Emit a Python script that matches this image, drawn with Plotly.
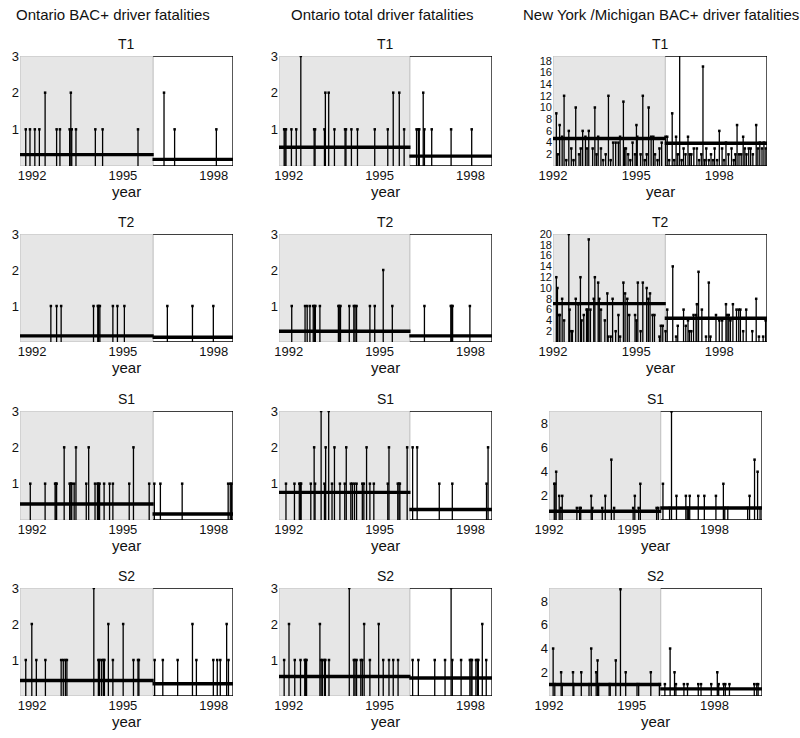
import plotly.graph_objects as go

W, H = 800, 738

COL_TITLES = ["Ontario BAC+ driver fatalities",
              "Ontario total driver fatalities",
              "New York /Michigan BAC+ driver fatalities"]
ROW_LABELS = ["T1", "T2", "S1", "S2"]
YEAR_TICKS = [1992, 1995, 1998]

# ---------------- Ontario BAC+ ----------------
on_bac_t1_x = [1991.79, 1991.93, 1992.09, 1992.24, 1992.43, 1992.81, 1992.92, 1993.24, 1993.28,
               1993.31, 1993.45, 1994.09, 1994.33, 1995.50, 1996.36, 1996.71, 1998.09]
on_bac_t1_y = [1, 1, 1, 1, 2, 1, 1, 1, 2, 1, 1, 1, 1, 1, 2, 1, 1]
on_bac_t2_x = [1992.62, 1992.81, 1992.96, 1994.03, 1994.17, 1994.20, 1994.24, 1994.67, 1994.82,
               1995.05, 1996.47, 1997.30, 1997.99]
on_bac_t2_y = [1] * 13
on_bac_s1_x = [1991.94, 1992.43, 1992.76, 1992.79, 1992.81, 1993.06, 1993.24, 1993.28, 1993.31,
               1993.39, 1993.45, 1993.79, 1993.87, 1994.08, 1994.16, 1994.19, 1994.23, 1994.38,
               1994.56, 1994.67, 1995.21, 1995.35, 1995.87, 1996.04, 1996.24, 1996.96, 1998.48,
               1998.55, 1998.59]
on_bac_s1_y = [1, 1, 1, 1, 1, 2, 1, 1, 1, 1, 2, 1, 2, 1, 1, 1, 1, 1, 1, 1, 1, 2, 1, 1, 1, 1, 1, 1, 1]
on_bac_s2_x = [1991.79, 1991.99, 1992.14, 1992.44, 1992.96, 1993.03, 1993.10, 1993.15, 1994.04,
               1994.19, 1994.23, 1994.30, 1994.36, 1994.39, 1994.52, 1994.67, 1995.01, 1995.35,
               1995.50, 1995.53, 1996.05, 1996.32, 1996.81, 1997.30, 1997.43, 1997.99, 1998.12,
               1998.22, 1998.43, 1998.49]
on_bac_s2_y = [1, 2, 1, 1, 1, 1, 1, 1, 3, 1, 1, 1, 1, 1, 2, 1, 2, 1, 1, 1, 1, 1, 1, 2, 1, 1, 1, 1, 2, 1]
on_bac_mean_before = [0.31, 0.17, 0.44, 0.43]
on_bac_mean_after = [0.18, 0.13, 0.165, 0.34]

# ---------------- Ontario total ----------------
on_tot_t1_x = [1991.85, 1991.88, 1991.91, 1992.09, 1992.25, 1992.40, 1992.84, 1992.87, 1993.18,
               1993.21, 1993.32, 1993.51, 1993.86, 1993.89, 1994.07, 1994.27, 1994.84, 1995.27,
               1995.45, 1995.65, 1995.81, 1996.22, 1996.28, 1996.31, 1996.44, 1996.48, 1996.72,
               1997.36, 1998.04]
on_tot_t1_y = [1, 1, 1, 1, 1, 3, 1, 1, 1, 2, 2, 1, 1, 1, 1, 1, 1, 1, 2, 2, 1, 1, 1, 1, 2, 1, 1, 1, 1]
on_tot_t2_x = [1992.10, 1992.54, 1992.61, 1992.70, 1992.81, 1992.85, 1992.88, 1993.03, 1993.64,
               1993.67, 1993.71, 1994.00, 1994.15, 1994.19, 1994.24, 1994.68, 1994.84, 1995.12,
               1995.42, 1996.48, 1997.35, 1997.38, 1997.41, 1997.98]
on_tot_t2_y = [1, 1, 1, 1, 1, 1, 1, 1, 1, 1, 1, 1, 1, 1, 1, 1, 1, 2, 1, 1, 1, 1, 1, 1]
on_tot_s1_x = [1991.91, 1992.19, 1992.35, 1992.39, 1992.41, 1992.73, 1992.84, 1992.87, 1993.07,
               1993.18, 1993.22, 1993.32, 1993.43, 1993.51, 1993.69, 1993.85, 1993.90, 1994.05,
               1994.10, 1994.17, 1994.24, 1994.43, 1994.48, 1994.57, 1994.68, 1994.81, 1995.27,
               1995.31, 1995.60, 1995.64, 1995.67, 1995.91, 1996.09, 1996.24, 1996.97, 1997.40,
               1998.53, 1998.58]
on_tot_s1_y = [1, 1, 1, 1, 1, 1, 2, 1, 3, 1, 2, 3, 1, 2, 1, 1, 2, 1, 1, 1, 1, 1, 1, 2, 1, 1, 1,
               2, 1, 1, 1, 2, 2, 2, 1, 1, 1, 2]
on_tot_s2_x = [1991.85, 1992.01, 1992.20, 1992.39, 1992.53, 1992.56, 1992.59, 1993.03, 1993.07,
               1993.11, 1993.18, 1993.21, 1993.33, 1994.00, 1994.15, 1994.19, 1994.24, 1994.38,
               1994.43, 1994.49, 1994.68, 1994.97, 1995.12, 1995.31, 1995.45, 1995.61, 1996.09,
               1996.28, 1996.82, 1997.16, 1997.36, 1997.40, 1997.69, 1997.98, 1998.02, 1998.05,
               1998.18, 1998.23, 1998.26, 1998.39, 1998.52]
on_tot_s2_y = [1, 2, 1, 1, 1, 1, 1, 2, 1, 1, 1, 1, 1, 3, 1, 1, 1, 1, 1, 2, 1, 2, 1, 1, 1, 1, 1,
               1, 1, 1, 3, 1, 1, 1, 1, 1, 1, 1, 1, 2, 1]
on_tot_mean_before = [0.51, 0.30, 0.76, 0.54]
on_tot_mean_after = [0.27, 0.17, 0.29, 0.50]

# ---------------- New York / Michigan BAC+ ----------------
ny_t1_x = [1992.12, 1992.17, 1992.24, 1992.33, 1992.40, 1992.48, 1992.57, 1992.66, 1992.74, 1992.82,
           1992.94, 1993.00, 1993.07, 1993.17, 1993.23, 1993.29, 1993.43, 1993.51, 1993.57, 1993.63,
           1993.73, 1993.81, 1993.90, 1994.00, 1994.08, 1994.17, 1994.26, 1994.36, 1994.42, 1994.54,
           1994.58, 1994.63, 1994.71, 1994.79, 1994.87, 1994.96, 1995.01, 1995.04, 1995.16, 1995.24,
           1995.31, 1995.38, 1995.45, 1995.54, 1995.62, 1995.68, 1995.77, 1995.84, 1995.92,
           1996.06, 1996.12, 1996.19, 1996.30, 1996.37, 1996.44, 1996.50, 1996.57, 1996.64, 1996.71,
           1996.78, 1996.87, 1996.93, 1996.99, 1997.08, 1997.19, 1997.27, 1997.35, 1997.41, 1997.47,
           1997.53, 1997.62, 1997.70, 1997.77, 1997.83, 1997.92, 1998.00, 1998.10, 1998.17, 1998.24,
           1998.33, 1998.44, 1998.52, 1998.58, 1998.64, 1998.71, 1998.79, 1998.86, 1998.92, 1998.98,
           1999.06, 1999.13, 1999.21, 1999.33, 1999.39, 1999.46, 1999.54, 1999.61, 1999.68]
ny_t1_y = [9, 2, 7, 5, 12, 1, 6, 3, 1, 10, 2, 3, 6, 5, 3, 6, 3, 10, 2, 5, 3, 1, 2, 12, 1, 4, 4, 4, 5,
           11, 3, 3, 2, 1, 4, 2, 7, 5, 2, 12, 1, 2, 10, 5, 5, 2, 1, 3, 4,
           5, 5, 1, 9, 1, 5, 2, 19, 1, 3, 2, 5, 2, 2, 3, 3, 1, 2, 17, 1, 3, 1, 2, 1, 3, 1, 6, 3, 1, 4,
           2, 3, 1, 2, 7, 2, 2, 5, 3, 2, 3, 3, 2, 7, 3, 4, 3, 4, 3]
ny_t2_x = [1992.12, 1992.16, 1992.22, 1992.25, 1992.33, 1992.40, 1992.57, 1992.60, 1992.66, 1992.70,
           1992.82, 1992.91, 1992.99, 1993.03, 1993.11, 1993.21, 1993.24, 1993.29, 1993.35, 1993.47,
           1993.51, 1993.63, 1993.67, 1993.73, 1993.87, 1993.96, 1993.99, 1994.08, 1994.15, 1994.26,
           1994.36, 1994.42, 1994.54, 1994.60, 1994.68, 1994.75, 1994.96, 1995.01, 1995.06, 1995.16,
           1995.24, 1995.38, 1995.44, 1995.50, 1995.59, 1995.66, 1995.84, 1995.89, 1995.96,
           1996.06, 1996.12, 1996.32, 1996.44, 1996.50, 1996.71, 1996.79, 1996.87, 1996.92, 1996.99,
           1997.07, 1997.16, 1997.19, 1997.25, 1997.37, 1997.52, 1997.62, 1997.68, 1997.88, 1998.00,
           1998.10, 1998.24, 1998.28, 1998.34, 1998.40, 1998.49, 1998.62, 1998.70, 1998.76, 1998.86,
           1998.97, 1999.19, 1999.33, 1999.43, 1999.58, 1999.67]
ny_t2_y = [12, 10, 5, 5, 8, 4, 20, 6, 2, 2, 8, 7, 12, 4, 5, 6, 6, 19, 6, 8, 12, 11, 8, 6, 4, 9, 1, 1,
           8, 2, 5, 1, 11, 9, 8, 5, 5, 4, 11, 2, 11, 10, 8, 9, 5, 5, 1, 3, 3,
           2, 6, 14, 1, 3, 6, 3, 4, 2, 2, 5, 5, 7, 13, 6, 1, 11, 1, 5, 4, 4, 7, 5, 5, 4, 7, 6, 6, 6,
           2, 6, 2, 8, 1, 1, 4]
ny_s1_x = [1992.19, 1992.22, 1992.26, 1992.37, 1992.43, 1992.48, 1993.01, 1993.11, 1993.15, 1993.53,
           1993.57, 1993.93, 1994.04, 1994.26, 1994.36, 1995.05, 1995.11, 1995.25, 1995.31, 1995.90,
           1995.96, 1996.13, 1996.37, 1996.44, 1996.62, 1996.96, 1997.01, 1997.05, 1997.10, 1997.41,
           1997.63, 1998.05, 1998.32, 1998.37, 1998.48, 1999.20, 1999.27, 1999.45, 1999.56, 1999.65]
ny_s1_y = [3, 3, 4, 2, 1, 2, 1, 1, 1, 2, 1, 1, 2, 5, 1, 1, 2, 1, 3, 1, 1, 3, 1, 9, 2, 2, 1, 1, 2, 2,
           2, 2, 3, 1, 1, 1, 2, 5, 4, 1]
ny_s2_x = [1992.15, 1992.21, 1992.44, 1992.48, 1992.87, 1992.90, 1993.17, 1993.45, 1993.53, 1993.71,
           1993.76, 1993.80, 1994.18, 1994.22, 1994.42, 1994.59, 1994.78, 1995.19, 1995.25, 1995.69,
           1996.00, 1996.20, 1996.39, 1996.55, 1996.60, 1996.89, 1997.02, 1997.41, 1997.51, 1997.88,
           1998.10, 1998.15, 1998.33, 1998.39, 1998.54, 1999.44, 1999.53, 1999.58]
ny_s2_y = [4, 1, 2, 1, 2, 1, 2, 1, 4, 2, 3, 1, 1, 1, 3, 9, 2, 1, 1, 2, 1, 1, 4, 2, 1, 1, 1, 1, 1, 1,
           2, 1, 1, 1, 1, 1, 1, 1]
ny_mean_before = [4.7, 7.1, 0.72, 0.97]
ny_mean_after = [3.9, 4.4, 1.0, 0.6]

# ---------------- layout geometry (pixels) ----------------
ROW_PX = [(56, 166), (234, 342), (411, 520), (588, 696)]
COL_PX_T = [(20, 233), (279, 492), (553, 767)]
COL_PX_S = [(20, 233), (279, 492), (549, 762)]
X_RANGES = [(1991.60, 1998.64), (1991.68, 1998.71), (1992.0, 1999.72)]
SPLITS = [1996.0, 1996.0, 1996.05]
Y_MAX = [[3, 3, 3, 3], [3, 3, 3, 3], [18.8, 20.0, 9.03, 9.1]]
Y_TICKS = [[[1, 2, 3]] * 4, [[1, 2, 3]] * 4,
           [list(range(2, 19, 2)), list(range(2, 21, 2)), [2, 4, 6, 8], [2, 4, 6, 8]]]
Y_TICK_SIZE = [[13] * 4, [13] * 4, [11, 11, 13, 13]]
HEADER_X = [113, 382, 661]

data = [
    [(on_bac_t1_x, on_bac_t1_y), (on_bac_t2_x, on_bac_t2_y), (on_bac_s1_x, on_bac_s1_y), (on_bac_s2_x, on_bac_s2_y)],
    [(on_tot_t1_x, on_tot_t1_y), (on_tot_t2_x, on_tot_t2_y), (on_tot_s1_x, on_tot_s1_y), (on_tot_s2_x, on_tot_s2_y)],
    [(ny_t1_x, ny_t1_y), (ny_t2_x, ny_t2_y), (ny_s1_x, ny_s1_y), (ny_s2_x, ny_s2_y)],
]
means = [(on_bac_mean_before, on_bac_mean_after), (on_tot_mean_before, on_tot_mean_after),
         (ny_mean_before, ny_mean_after)]

FONT = "Liberation Sans, Arial, sans-serif"
fig = go.Figure()
layout = dict(template="none", width=W, height=H, margin=dict(l=0, r=0, t=0, b=0, autoexpand=False),
              paper_bgcolor="white", plot_bgcolor="rgba(0,0,0,0)",
              font=dict(family=FONT, size=12, color="#111"), showlegend=False)
shapes, annotations = [], []

def px_x(p):
    return p / W

def px_y(p):
    return 1 - p / H

k = 0
for c in range(3):
    annotations.append(dict(text=COL_TITLES[c], x=px_x(HEADER_X[c]), y=px_y(15), xref="paper", yref="paper",
                            showarrow=False, font=dict(size=15, family=FONT, color="#111"),
                            xanchor="center", yanchor="middle"))
    for r in range(4):
        k += 1
        xa = "x" if k == 1 else f"x{k}"
        ya = "y" if k == 1 else f"y{k}"
        cols = COL_PX_T if r < 2 else COL_PX_S
        x0p, x1p = cols[c]
        y0p, y1p = ROW_PX[r]
        xmin, xmax = X_RANGES[c]
        ymax = Y_MAX[c][r]
        split = SPLITS[c]
        layout["xaxis" if k == 1 else f"xaxis{k}"] = dict(
            domain=[px_x(x0p), px_x(x1p)], range=[xmin, xmax], anchor=ya, automargin=False,
            showgrid=False, zeroline=False, showline=False, ticks="",
            tickvals=YEAR_TICKS, ticktext=[str(v) for v in YEAR_TICKS],
            tickfont=dict(size=13, family=FONT, color="#111"), fixedrange=True)
        layout["yaxis" if k == 1 else f"yaxis{k}"] = dict(
            domain=[px_y(y1p), px_y(y0p)], range=[0, ymax], anchor=xa, automargin=False,
            showgrid=False, zeroline=False, showline=False, ticks="",
            tickvals=Y_TICKS[c][r], tickfont=dict(size=Y_TICK_SIZE[c][r], family=FONT, color="#111"),
            fixedrange=True)
        # shaded pre-period
        shapes.append(dict(type="rect", xref=xa, yref=ya, x0=xmin, x1=split, y0=0, y1=ymax,
                           fillcolor="#e6e6e6", line=dict(color="#bdbdbd", width=1), layer="below"))
        # frame around post-period
        shapes.append(dict(type="path", xref=xa, yref=ya,
                           path=f"M {split},{ymax} L {xmax},{ymax} L {xmax},0 L {split},0",
                           line=dict(color="black", width=1.3), layer="above"))
        xs, ys = data[c][r]
        lx, ly = [], []
        for xv, yv in zip(xs, ys):
            lx += [xv, xv, None]
            ly += [0, yv, None]
        fig.add_trace(go.Scatter(x=lx, y=ly, mode="lines", xaxis=xa, yaxis=ya,
                                 line=dict(color="black", width=1.3), hoverinfo="skip"))
        fig.add_trace(go.Scatter(x=xs, y=ys, mode="markers", xaxis=xa, yaxis=ya,
                                 marker=dict(color="black", size=2.5, symbol="square"), hoverinfo="skip"))
        mb, ma = means[c][0][r], means[c][1][r]
        fig.add_trace(go.Scatter(x=[xmin, split + 0.02, None, split - 0.02, xmax], y=[mb, mb, None, ma, ma],
                                 mode="lines", xaxis=xa, yaxis=ya, line=dict(color="black", width=3.4),
                                 hoverinfo="skip"))
        xc = (x0p + x1p) / 2
        annotations.append(dict(text=ROW_LABELS[r], x=px_x(xc), y=px_y(y0p - 12), xref="paper", yref="paper",
                                showarrow=False, font=dict(size=14, family=FONT, color="#111"),
                                xanchor="center", yanchor="middle"))
        annotations.append(dict(text="year", x=px_x(xc), y=px_y(y1p + 25), xref="paper", yref="paper",
                                showarrow=False, font=dict(size=15, family=FONT, color="#111"),
                                xanchor="center", yanchor="middle"))

layout["shapes"] = shapes
layout["annotations"] = annotations
fig.update_layout(**layout)
fig.write_html("out.html", config={"displayModeBar": False, "staticPlot": True},
               post_script="document.body.style.margin='0';document.body.style.overflow='hidden';")
